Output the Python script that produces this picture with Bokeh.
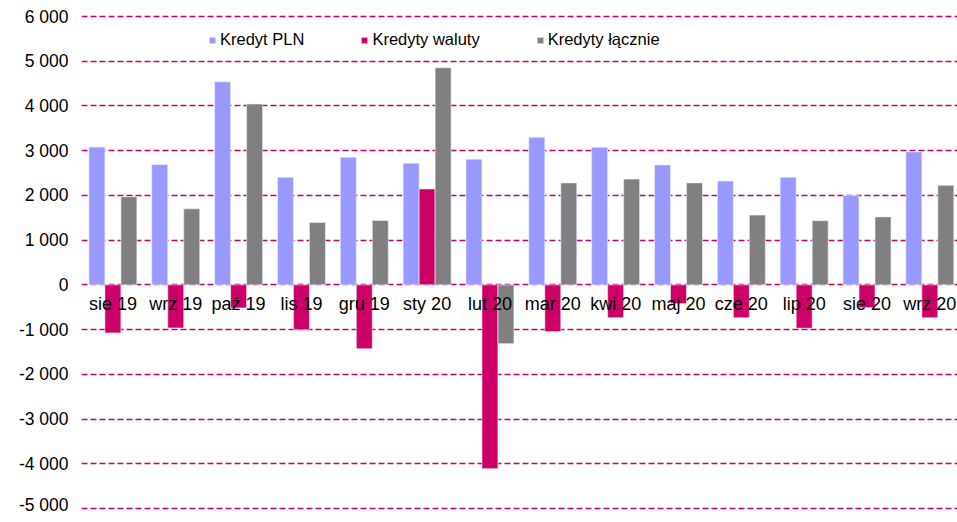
from bokeh.plotting import figure
from bokeh.models import ColumnDataSource, FixedTicker, Legend, LegendItem, Range1d
from bokeh.core.properties import value
from bokeh.embed import file_html
from bokeh.resources import INLINE

categories = ["sie 19", "wrz 19", "paź 19", "lis 19", "gru 19", "sty 20", "lut 20",
              "mar 20", "kwi 20", "maj 20", "cze 20", "lip 20", "sie 20", "wrz 20"]
kredyt_pln = [3080, 2690, 4540, 2405, 2855, 2720, 2810, 3300, 3075, 2680, 2320, 2405, 2000, 2975]
kredyty_waluty = [-1075, -965, -515, -1005, -1430, 2145, -4110, -1045, -735, -420, -735, -970, -510, -735]
kredyty_lacznie = [1970, 1700, 4045, 1395, 1440, 4855, -1315, 2280, 2365, 2280, 1560, 1435, 1520, 2225]
y_ticks = [-5000, -4000, -3000, -2000, -1000, 0, 1000, 2000, 3000, 4000, 5000, 6000]
series_names = ["Kredyt PLN", "Kredyty waluty", "Kredyty łącznie"]
series_colors = ["#9999FF", "#CC0066", "#808080"]

FONT = "Liberation Sans"
n = len(categories)
centers = [i + 0.5 for i in range(n)]
bw = 0.2546

p = figure(width=957, height=514, output_backend="svg", toolbar_location=None,
           x_range=Range1d(0, 13.94), y_range=Range1d(-5134, 6179),
           x_axis_location=None, min_border_left=81, min_border_right=0,
           min_border_top=8, min_border_bottom=0)
p.outline_line_color = None
p.xgrid.visible = False
p.ygrid.ticker = FixedTicker(ticks=y_ticks)
p.ygrid.grid_line_color = "#CC0066"
p.ygrid.grid_line_dash = "6 3"
p.ygrid.grid_line_width = 1.6

yax = p.yaxis[0]
yax.ticker = FixedTicker(ticks=y_ticks)
yax.major_label_overrides = {t: f"{t:,}".replace(",", " ") for t in y_ticks}
yax.axis_line_color = None
yax.major_tick_line_color = None
yax.major_tick_out = 0
yax.major_tick_in = 0
yax.minor_tick_line_color = None
yax.minor_tick_out = 0
yax.major_label_text_font = FONT
yax.major_label_text_font_size = "17.5px"
yax.major_label_text_color = "#000000"
yax.major_label_standoff = 13

renderers = []
for k, (vals, color) in enumerate(zip([kredyt_pln, kredyty_waluty, kredyty_lacznie], series_colors)):
    src = ColumnDataSource(dict(x=[c + (k - 1) * bw for c in centers], top=vals))
    r = p.vbar(x="x", top="top", bottom=0, width=bw, source=src,
               fill_color=color, line_color="#ECECFF", line_width=0.8, line_alpha=0.8)
    renderers.append(r)

lab = ColumnDataSource(dict(x=centers, y=[0] * n, t=categories))
p.text(x="x", y="y", text="t", source=lab, text_align="center", text_baseline="middle",
       y_offset=19, text_font=value(FONT), text_font_size="18px", text_color="#000000")

legend = Legend(items=[LegendItem(label=nm, renderers=[r]) for nm, r in zip(series_names, renderers)],
                orientation="horizontal", location=(127, 465), spacing=56,
                glyph_width=8, glyph_height=8, label_standoff=4,
                label_text_font=FONT, label_text_font_size="16.5px", label_text_color="#000000",
                border_line_color=None, background_fill_alpha=0, padding=0, margin=0)
p.add_layout(legend, "center")

open("out.html", "w").write(file_html(p, INLINE))
